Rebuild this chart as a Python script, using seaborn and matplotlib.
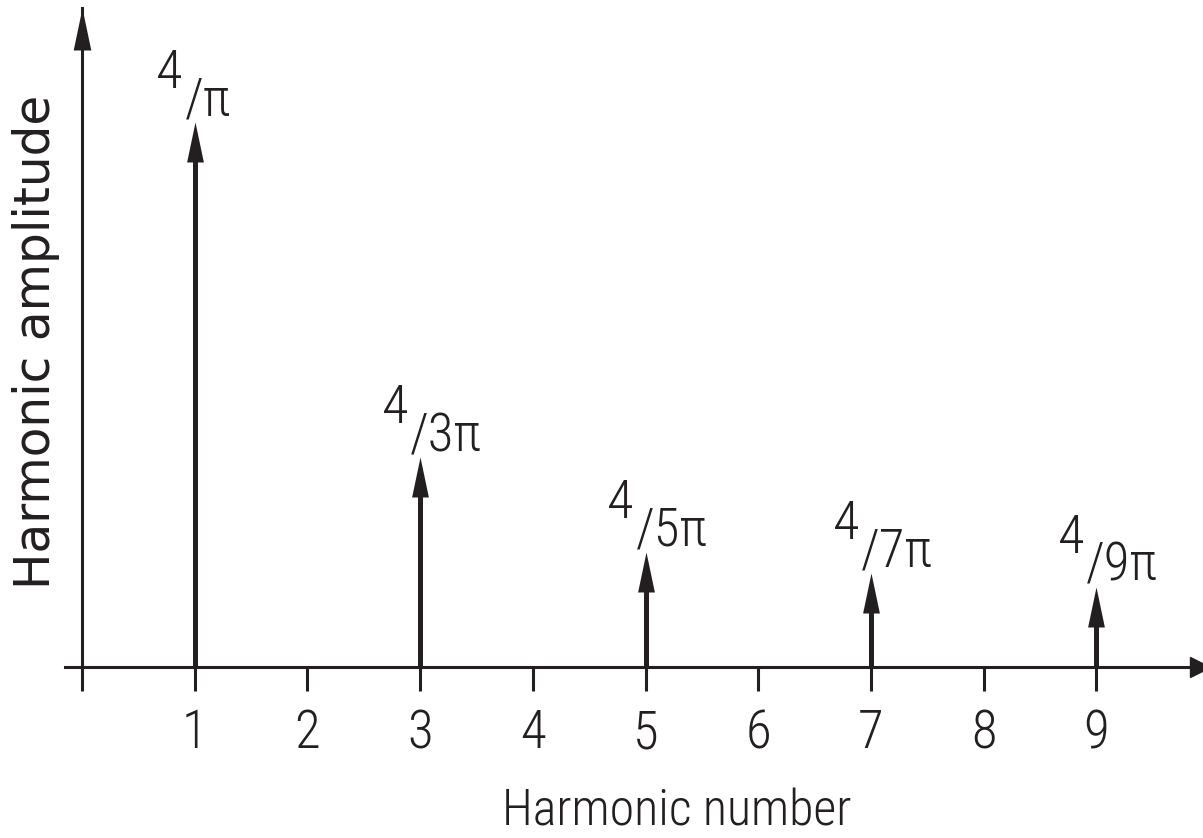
import matplotlib
matplotlib.use("Agg")
import matplotlib.pyplot as plt
from matplotlib import font_manager
from matplotlib.path import Path
import seaborn as sns
import pandas as pd

# ---- data ----
harmonic = [1, 3, 5, 7, 9]
amplitude = [1.273, 0.490, 0.269, 0.220, 0.187]   # (4/π at top)
numerator = "4"
denominators = ["π", "3π", "5π", "7π", "9π"]
tick_positions = [0, 1, 2, 3, 4, 5, 6, 7, 8, 9]
tick_labels = ["", "1", "2", "3", "4", "5", "6", "7", "8", "9"]
x_label = "Harmonic number"
y_label = "Harmonic amplitude"

df = pd.DataFrame({"harmonic": harmonic, "amplitude": amplitude})

sns.set_theme(style="white")
available = {f.name for f in font_manager.fontManager.ttflist}
narrow = next((f for f in ["Liberation Sans Narrow", "DejaVu Sans Condensed",
                           "Roboto Condensed", "Liberation Sans"] if f in available),
              "DejaVu Sans")
plt.rcParams["font.family"] = [narrow, "DejaVu Sans"]
plt.rcParams["font.weight"] = "light"

INK = "#231f20"
W, H = 1203, 838
fig = plt.figure(figsize=(W / 100, H / 100), dpi=100)
ax = fig.add_axes([65 / W, (H - 667) / H, (1200 - 65) / W, (667 - 8) / H])
ax.set_xlim(-0.151, 9.92)
ax.set_ylim(0, 1.539)

# arrow-head marker: tip at the data point
head = Path([(0, 0), (0.21, -1), (-0.21, -1), (0, 0)],
            [Path.MOVETO, Path.LINETO, Path.LINETO, Path.CLOSEPOLY])
head_px = 40
head_data = head_px / (659 / 1.539)

# stems
ax.vlines(df["harmonic"], 0, df["amplitude"] - head_data * 0.5,
          color=INK, lw=3.6, zorder=3)
sns.scatterplot(data=df, x="harmonic", y="amplitude", marker=head,
                s=(2 * head_px / 1.389) ** 2, color=INK, linewidth=0,
                ax=ax, zorder=4, legend=False)

# labels 4/(nπ)
fam = [narrow, "DejaVu Sans"]
for xv, yv, den in zip(harmonic, amplitude, denominators):
    ax.annotate(numerator, xy=(xv, yv), xytext=(-12, 34), textcoords="offset pixels",
                ha="right", va="baseline", fontsize=39, color=INK,
                family=fam, fontweight="light")
    ax.annotate("/" + den, xy=(xv, yv), xytext=(-10, 6), textcoords="offset pixels",
                ha="left", va="baseline", fontsize=38, color=INK,
                family=fam, fontweight="light")

# axes styling
for s in ["top", "right"]:
    ax.spines[s].set_visible(False)
ax.spines["left"].set_position(("data", 0))
for s in ["left", "bottom"]:
    ax.spines[s].set_color(INK)
    ax.spines[s].set_linewidth(2.2)
ax.set_yticks([])
ax.set_xticks(tick_positions)
ax.set_xticklabels(tick_labels)
ax.tick_params(axis="x", direction="out", length=17.3, width=2.2, colors=INK,
               pad=12, labelsize=38, bottom=True)
ax.set_xlabel(x_label, fontsize=36, color=INK, fontweight="light")
ax.xaxis.set_label_coords((677 - 65) / 1135, (667 - 788) / 659)
ax.set_ylabel(y_label, fontsize=35, color=INK, family="DejaVu Sans",
              fontweight="normal")
ax.yaxis.set_label_coords((60 - 65) / 1135, (667 - 342) / 659)

# axis arrow heads
ax.scatter([0], [1.539], marker=head, s=(2 * 42 / 1.389) ** 2, color=INK,
           linewidth=0, clip_on=False, zorder=5)
ax.plot(1, 0, marker=">", ms=14, color=INK, transform=ax.get_yaxis_transform(),
        clip_on=False)

fig.savefig("out.png", dpi=100, facecolor="white")
